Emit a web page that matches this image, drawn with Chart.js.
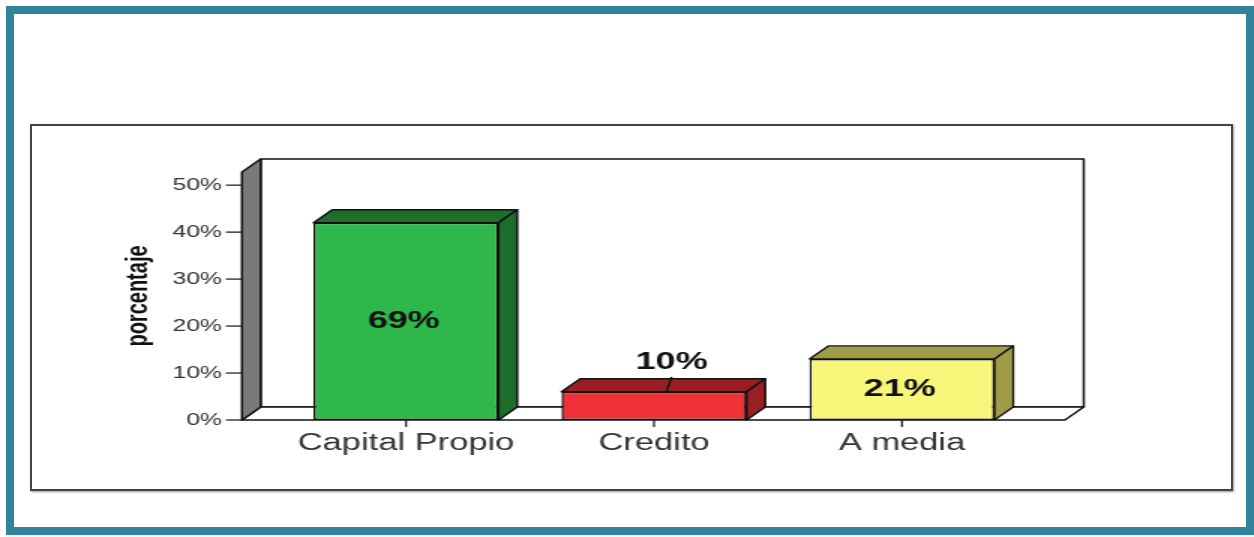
<!DOCTYPE html>
<html>
<head>
<meta charset="utf-8">
<script src="https://cdn.jsdelivr.net/npm/chart.js@4/dist/chart.umd.min.js"></script>
<style>
  html, body { margin: 0; padding: 0; background: #fff; }
  body { width: 1254px; height: 537px; position: relative; overflow: hidden; }
  #frame { position: absolute; left: 6px; top: 6px; width: 1232px; height: 513px; border: 8px solid #31849b; }
  #panel { position: absolute; left: 30px; top: 124px; width: 1199px; height: 363px; border: 2px solid #444; box-shadow: 1px 1px 2px #999; }
  /* the original picture is stretched sideways, so the chart is drawn narrow and scaled */
  #wrap { position: absolute; left: 0; top: 0; width: 836px; height: 537px; transform: scaleX(1.5); transform-origin: 0 0; }
</style>
</head>
<body>
<div id="frame"></div>
<div id="panel"></div>
<div id="wrap"><canvas id="chart"></canvas></div>
<script>
const categories = ['Capital Propio', 'Credito', 'A media'];
const porcentajes = [42, 6, 13];
const etiquetas = ['69%', '10%', '21%'];
const yTicks = [0, 10, 20, 30, 40, 50];
const frontColors = ['#2eb84b', '#ef3237', '#f8f67a'];
const sideColors = ['#1f6d2b', '#9a1f24', '#a09c47'];

const DX = 12.5;     // depth, sideways
const DY = 13;       // depth, upward
const WALL_L = 26.7; // floor/wall reach past the category area
const WALL_R = 26;
const FONT = '"Liberation Sans", Arial, sans-serif';

function poly(ctx, pts, fill) {
  ctx.beginPath();
  ctx.moveTo(pts[0][0], pts[0][1]);
  for (let i = 1; i < pts.length; i++) ctx.lineTo(pts[i][0], pts[i][1]);
  ctx.closePath();
  if (fill) { ctx.fillStyle = fill; ctx.fill(); }
  ctx.stroke();
}

// walls, floor and tick marks behind the bars, then bar tops/sides and labels
const box3d = {
  id: 'box3d',
  beforeDatasetsDraw(chart) {
    const { ctx, chartArea: a, scales: { x, y } } = chart;
    const base = y.getPixelForValue(0);
    const top = a.top;
    const fl = a.left - WALL_L;
    const fr = a.right + WALL_R;
    ctx.save();
    ctx.lineWidth = 1.5;
    ctx.strokeStyle = '#111';
    ctx.lineJoin = 'round';
    poly(ctx, [[fl + DX, top - DY], [fr + DX, top - DY], [fr + DX, base - DY], [fl + DX, base - DY]], '#fff');
    poly(ctx, [[fl, base], [fr, base], [fr + DX, base - DY], [fl + DX, base - DY]], '#fff');
    poly(ctx, [[fl, base], [fl, top], [fl + DX, top - DY], [fl + DX, base - DY]], '#7a7a7a');

    ctx.lineWidth = 1.3;
    ctx.strokeStyle = '#222';
    y.ticks.forEach(t => {
      const py = y.getPixelForValue(t.value);
      ctx.beginPath();
      ctx.moveTo(fl - 10.7, py);
      ctx.lineTo(fl, py);
      ctx.stroke();
    });
    x.ticks.forEach((t, i) => {
      const px = x.getPixelForTick(i);
      ctx.beginPath();
      ctx.moveTo(px, base);
      ctx.lineTo(px, base + 7);
      ctx.stroke();
    });
    ctx.restore();
  },
  afterDatasetsDraw(chart) {
    const { ctx } = chart;
    const meta = chart.getDatasetMeta(0);
    ctx.save();
    ctx.lineWidth = 1.5;
    ctx.strokeStyle = '#111';
    ctx.lineJoin = 'round';
    meta.data.forEach((bar, i) => {
      const { x, y, width, base } = bar.getProps(['x', 'y', 'width', 'base'], true);
      const l = x - width / 2;
      const r = x + width / 2;
      poly(ctx, [[l, y], [l + DX, y - DY], [r + DX, y - DY], [r, y]], sideColors[i]);
      poly(ctx, [[r, y], [r + DX, y - DY], [r + DX, base - DY], [r, base]], sideColors[i]);

      ctx.fillStyle = '#111';
      ctx.font = 'bold 24px ' + FONT;
      ctx.textAlign = 'center';
      ctx.textBaseline = 'middle';
      if (base - y > 40) {
        ctx.fillText(etiquetas[i], x - 1.5, (y + base) / 2);
      } else {
        ctx.fillText(etiquetas[i], x + 11.7, y - 29);
        ctx.lineWidth = 1.3;
        ctx.beginPath();
        ctx.moveTo(x + 11.7, y - 15);
        ctx.lineTo(x + 8.3, y);
        ctx.stroke();
      }
    });
    ctx.restore();
  }
};

new Chart(document.getElementById('chart'), {
  type: 'bar',
  data: {
    labels: categories,
    datasets: [{
      data: porcentajes,
      backgroundColor: frontColors,
      borderColor: '#111',
      borderWidth: 1.5,
      borderSkipped: false,
      barPercentage: 0.746,
      categoryPercentage: 1
    }]
  },
  options: {
    responsive: true,
    maintainAspectRatio: false,
    animation: false,
    layout: { padding: { left: 80, right: 152, top: 172, bottom: 77 } },
    plugins: { legend: { display: false }, tooltip: { enabled: false } },
    scales: {
      x: {
        offset: true,
        border: { display: false },
        grid: { display: false, drawTicks: false },
        ticks: { padding: 10, color: '#333', font: { family: FONT, size: 23 } },
        afterFit(s) { s.height = 40; }
      },
      y: {
        min: 0,
        max: 52.8,
        border: { display: false },
        grid: { display: false, drawTicks: false },
        ticks: { padding: 40, color: '#333', font: { family: FONT, size: 16.5 }, callback: v => v + '%' },
        afterBuildTicks(s) { s.ticks = yTicks.map(v => ({ value: v })); },
        afterFit(s) { s.width = 108; },
        title: { display: true, text: 'porcentaje', color: '#111', padding: 0, font: { family: FONT, size: 20, weight: 'bold' } }
      }
    }
  },
  plugins: [box3d]
});
</script>
</body>
</html>
